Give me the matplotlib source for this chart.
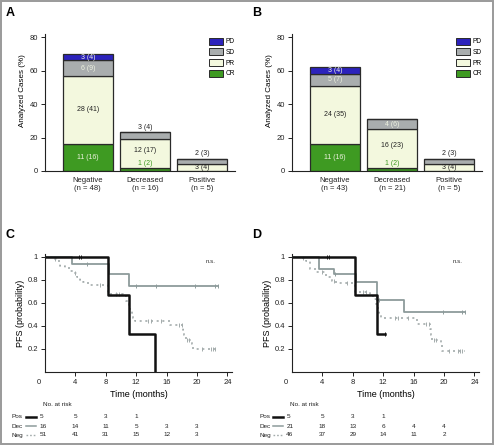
''' Response bars and PFS curves, four panels. '''

import matplotlib
matplotlib.use('Agg')
from matplotlib import pyplot as plt
from matplotlib.lines import Line2D
from matplotlib.patches import Patch, Rectangle
from matplotlib.transforms import blended_transform_factory
import numpy as np

plt.rcParams['font.family'] = ['Liberation Sans', 'DejaVu Sans']

# ---- bar chart data (counts and percent) ----
categories = ['Negative', 'Decreased', 'Positive']
responses = ['CR', 'PR', 'SD', 'PD']

nA = [48, 16, 5]
crA, crPctA = [11, 1, 0], [16, 2, 0]
prA, prPctA = [28, 12, 3], [41, 17, 4]
sdA, sdPctA = [6, 3, 2], [9, 4, 3]
pdA, pdPctA = [3, 0, 0], [4, 0, 0]

nB = [43, 21, 5]
crB, crPctB = [11, 1, 0], [16, 2, 0]
prB, prPctB = [24, 16, 3], [35, 23, 4]
sdB, sdPctB = [5, 4, 2], [7, 6, 3]
pdB, pdPctB = [3, 0, 0], [4, 0, 0]

# ---- PFS curves: step times (months) and survival, end time, censor times ----
posTimesC = [0, 8.3, 11.1, 14.5]
posSurvC = [1.0, 0.667, 0.333, 0.0]
posEndC = 14.5
posCensC = [4.5, 4.8]

decTimesC = [0, 3.6, 8.4, 11.1]
decSurvC = [1.0, 0.9375, 0.85, 0.746]
decEndC = 22.8
decCensC = [5.5, 12.0, 14.6, 19.7, 22.4, 22.7]

negTimesC = [0, 1.0, 1.5, 2.0, 2.6, 3.3, 3.7, 4.2, 4.6, 5.0, 5.7, 8.3, 10.2, 10.6,
	11.0, 11.2, 11.4, 11.6, 11.9, 16.4, 18.1, 18.3, 18.5, 19.3, 19.5]
negSurvC = [1.0, 0.98, 0.96, 0.92, 0.90, 0.88, 0.86, 0.82, 0.80, 0.78, 0.755, 0.68,
	0.66, 0.62, 0.58, 0.54, 0.50, 0.47, 0.445, 0.41, 0.36, 0.32, 0.28, 0.24, 0.20]
negEndC = 22.6
negCensC = [1.3, 4.0, 7.3, 9.3, 9.8, 13.6, 13.9, 15.2, 17.6, 18.0, 18.7, 19.0, 20.6, 21.8, 22.1, 22.4]

posTimesD = [0, 8.3, 11.2]
posSurvD = [1.0, 0.667, 0.333]
posEndD = 12.2
posCensD = [4.6, 4.9, 12.2]

decTimesD = [0, 3.6, 5.5, 8.4, 11.2, 14.7]
decSurvD = [1.0, 0.893, 0.847, 0.78, 0.625, 0.523]
decEndD = 22.7
decCensD = [5.6, 11.4, 19.9, 22.4, 22.7]

negTimesD = [0, 1.1, 1.8, 2.4, 3.1, 4.5, 5.3, 5.8, 8.3, 10.2, 10.7, 11.1, 11.3, 11.5,
	11.7, 16.5, 18.2, 18.3, 18.4, 19.6, 19.7]
negSurvD = [1.0, 0.985, 0.96, 0.89, 0.87, 0.82, 0.79, 0.77, 0.69, 0.66, 0.63, 0.59,
	0.55, 0.51, 0.466, 0.42, 0.37, 0.32, 0.28, 0.24, 0.18]
negEndD = 22.7
negCensD = [1.5, 4.0, 5.5, 7.3, 9.3, 9.8, 13.6, 13.9, 15.2, 17.6, 18.0, 18.7, 19.0, 20.7, 21.8, 22.1, 22.4]

riskTimes = [0, 4, 8, 12, 16, 20]
riskPosC = [5, 5, 3, 1]
riskDecC = [16, 14, 11, 5, 3, 3]
riskNegC = [51, 41, 31, 15, 12, 3]
riskPosD = [5, 5, 3, 1]
riskDecD = [21, 18, 13, 6, 4, 4]
riskNegD = [46, 37, 29, 14, 11, 2]

# colours
colCR = '#3e9a22'
colPR = '#f3f8de'
colSD = '#a9adae'
colPD = '#2c22bc'
colDec = '#8d9b9b'
colNeg = '#a3abab'

W, H = 494.0, 445.0
fig = plt.figure(figsize=(W/100, H/100), dpi=100)
# Thin grey frame round the whole figure.
fig.patches.append(Rectangle((0.002, 0.002), 0.996, 0.996, transform=fig.transFigure,
	fill=False, edgecolor='#9a9a9a', linewidth=1.4))

def styleAxes(ax):
	for side in ['top', 'right']:
		ax.spines[side].set_visible(False)
	for side in ['left', 'bottom']:
		ax.spines[side].set_linewidth(0.8)
		ax.spines[side].set_color('#222222')
	ax.tick_params(length=3, width=0.7, labelsize=5.5, pad=2, colors='#222222')

def drawBars(ax, n, cr, crPct, pr, prPct, sd, sdPct, pd, pdPct):
	x = np.arange(len(categories))
	width = 0.88
	bottom = np.zeros(len(categories))
	segs = [(cr, crPct, colCR), (pr, prPct, colPR), (sd, sdPct, colSD), (pd, pdPct, colPD)]
	for counts, pcts, col in segs:
		pcts = np.array(pcts, dtype=float)
		ax.bar(x, pcts, width, bottom=bottom, color=col, edgecolor='#2a2a2a', linewidth=0.9)
		bottom = bottom + pcts
	# Labels.
	tops = bottom
	for i in range(len(categories)):
		base = 0.0
		crShift = 0.0
		for k, (counts, pcts, col) in enumerate(segs):
			h = pcts[i]
			if h == 0:
				continue
			txt = '%d (%d)' % (counts[i], pcts[i])
			if k == 0 and h < 5:
				# small CR slice: label sits just above it, in green
				ax.text(x[i], base + h + 2.2, txt, ha='center', va='center', fontsize=5, color=colCR)
				crShift = 2.0
			elif k == 2 and base + h == tops[i] and h <= 4:
				# small SD slice on top: label above the bar
				ax.text(x[i], tops[i] + 3.2, txt, ha='center', va='center', fontsize=5, color='#222222')
			else:
				yc = base + h/2.0
				if k == 1:
					yc += crShift
				if col in (colCR, colSD, colPD):
					tc = '#eef2e0'
				else:
					tc = '#222222'
				ax.text(x[i], yc, txt, ha='center', va='center', fontsize=5, color=tc)
			base += h
	styleAxes(ax)
	ax.set_xlim(-0.75, 2.58)
	ax.set_ylim(0, 82)
	ax.set_yticks([0, 20, 40, 60, 80])
	ax.set_xticks(x)
	ax.set_xticklabels(['%s\n(n = %d)' % (c, m) for c, m in zip(categories, n)], fontsize=5.5, linespacing=1.3)
	ax.tick_params(axis='x', length=0, pad=4)
	ax.set_ylabel('Analyzed Cases (%)', fontsize=5.8)
	ax.yaxis.set_label_coords(-19/190.0, 0.585)
	handles = [Patch(facecolor=colPD, edgecolor='#2a2a2a', linewidth=0.7, label='PD'),
		Patch(facecolor=colSD, edgecolor='#2a2a2a', linewidth=0.7, label='SD'),
		Patch(facecolor=colPR, edgecolor='#2a2a2a', linewidth=0.7, label='PR'),
		Patch(facecolor=colCR, edgecolor='#2a2a2a', linewidth=0.7, label='CR')]
	ax.legend(handles=handles, loc='upper right', bbox_to_anchor=(1.02, 1.0), frameon=False,
		fontsize=4.8, handlelength=2.0, handleheight=1.2, labelspacing=0.45, handletextpad=0.4,
		borderaxespad=0.2)

def survAt(times, surv, t):
	idx = np.searchsorted(times, t, side='right') - 1
	return np.array(surv)[idx]

def drawCurve(ax, times, surv, end, cens, color, lw, ls):
	xs = list(times) + [end]
	ys = list(surv) + [surv[-1]]
	ax.step(xs, ys, where='post', color=color, linewidth=lw, linestyle=ls)
	if cens:
		ax.plot(cens, survAt(times, surv, cens), linestyle='none', marker='|', markersize=3,
			markeredgewidth=0.7, color=color)

def drawKM(ax, pos, dec, neg, riskPos, riskDec, riskNeg):
	drawCurve(ax, *neg, colNeg, 1.2, (0, (1.2, 2.2)))
	drawCurve(ax, *dec, colDec, 1.3, '-')
	drawCurve(ax, *pos, '#111111', 1.8, '-')
	styleAxes(ax)
	ax.set_xlim(0, 24.6)
	ax.set_ylim(0, 1.02)
	ax.set_xticks([4, 8, 12, 16, 20, 24])
	ax.set_yticks([0.2, 0.4, 0.6, 0.8, 1.0])
	ax.set_yticklabels(['0.2', '0.4', '0.6', '0.8', '1'])
	ax.tick_params(labelsize=5.5)
	ax.annotate('0', xy=(-0.85, 0), xycoords=('data', 'axes fraction'), xytext=(0, -7.3),
		textcoords='offset points', ha='center', va='center', fontsize=5.5, color='#222222',
		annotation_clip=False)
	ax.set_xlabel('Time (months)', fontsize=6.5, labelpad=3)
	ax.set_ylabel('PFS (probability)', fontsize=6.5)
	ax.yaxis.set_label_coords(-20/187.0, 0.5)
	ax.text(21.8, 0.96, 'n.s.', fontsize=4.5, ha='center', va='center', color='#333333')
	# Number at risk table.
	trans = blended_transform_factory(ax.transData, fig.transFigure)
	x0 = ax.get_position().x0
	ax.text(-0.2, 1 - 404/H, 'No. at risk', transform=trans, fontsize=4.6, ha='left', va='center',
		color='#222222', clip_on=False)
	rows = [('Pos', riskPos, '#111111', 1.8, '-'), ('Dec', riskDec, colDec, 1.1, '-'),
		('Neg', riskNeg, colNeg, 1.0, (0, (1.2, 1.4)))]
	for r, (name, vals, col, lw, ls) in enumerate(rows):
		y = 1 - (417 + 9*r)/H
		fig.text(x0 - 33/W, y, name, fontsize=4.6, ha='left', va='center', color='#222222')
		fig.add_artist(Line2D([x0 - 19/W, x0 - 9/W], [y, y], transform=fig.transFigure,
			color=col, linewidth=lw, linestyle=ls))
		for t, v in zip(riskTimes, vals):
			if t == 0:
				ax.text(-0.75, y, str(v), transform=trans, fontsize=4.6, ha='left', va='center',
					color='#222222', clip_on=False)
			else:
				ax.text(t, y, str(v), transform=trans, fontsize=4.6, ha='center', va='center',
					color='#222222', clip_on=False)

axA = fig.add_axes([45/W, 1 - 171/H, 190/W, 137.3/H])
axB = fig.add_axes([292/W, 1 - 171/H, 190/W, 137.3/H])
drawBars(axA, nA, crA, crPctA, prA, prPctA, sdA, sdPctA, pdA, pdPctA)
drawBars(axB, nB, crB, crPctB, prB, prPctB, sdB, sdPctB, pdB, pdPctB)

kmW = 24.6*7.6/W
kmH = 1.02*115.3/H
axC = fig.add_axes([45/W, 1 - 372/H, kmW, kmH])
axD = fig.add_axes([292/W, 1 - 372/H, kmW, kmH])
drawKM(axC, (posTimesC, posSurvC, posEndC, posCensC), (decTimesC, decSurvC, decEndC, decCensC),
	(negTimesC, negSurvC, negEndC, negCensC), riskPosC, riskDecC, riskNegC)
drawKM(axD, (posTimesD, posSurvD, posEndD, posCensD), (decTimesD, decSurvD, decEndD, decCensD),
	(negTimesD, negSurvD, negEndD, negCensD), riskPosD, riskDecD, riskNegD)

# Panel letters.
for letter, px, py in [('A', 10, 13), ('B', 257, 13), ('C', 10, 235), ('D', 257, 235)]:
	fig.text(px/W, 1 - py/H, letter, fontsize=9, fontweight='bold', ha='center', va='center')

fig.savefig('out.png', dpi=100)
